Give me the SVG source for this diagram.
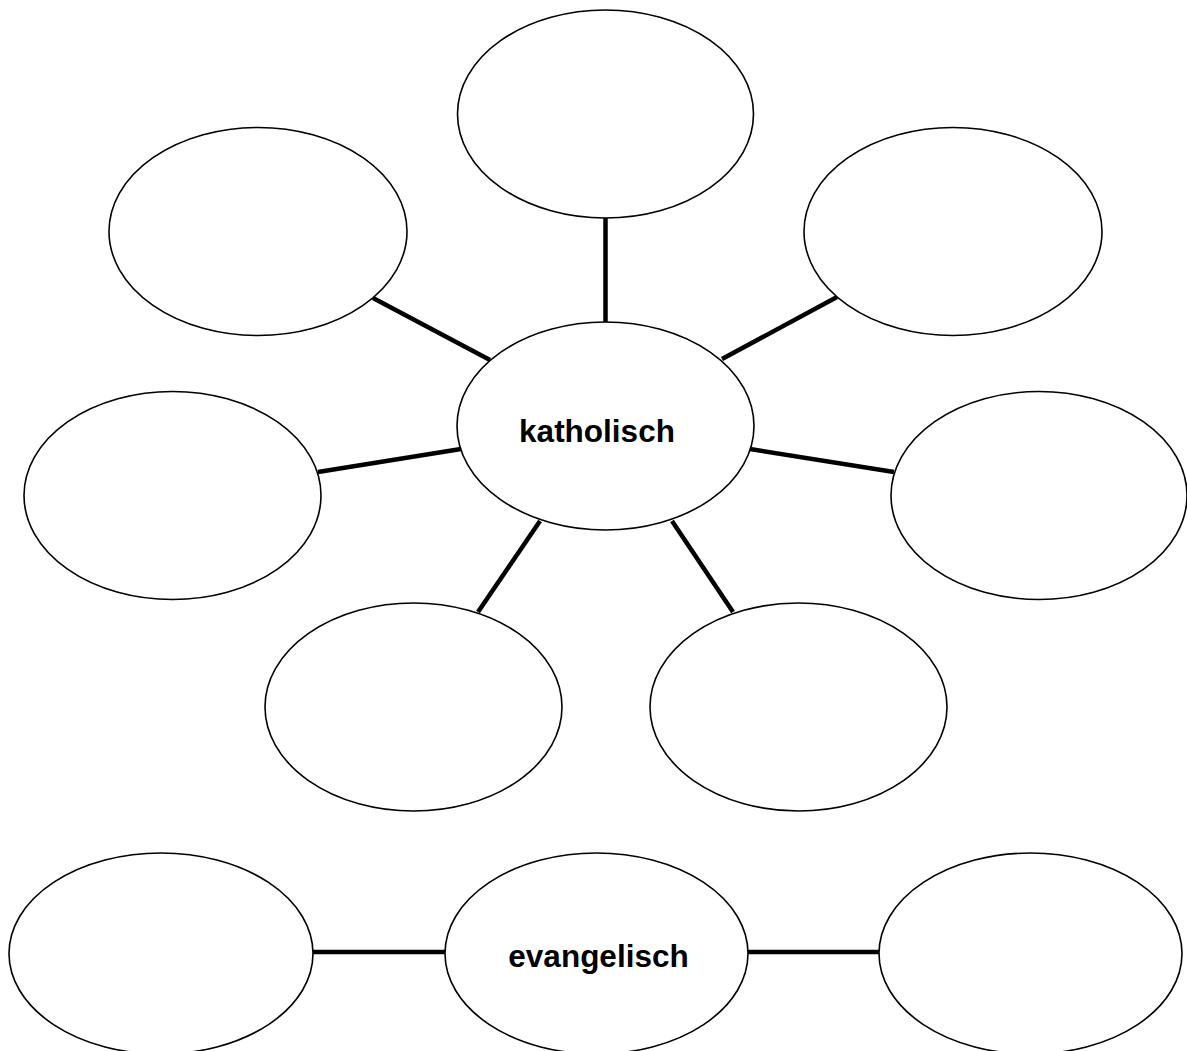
<svg xmlns="http://www.w3.org/2000/svg" width="1187" height="1051" viewBox="0 0 1187 1051">
<style>
.n{fill:#fff;stroke:#000;stroke-width:1.6}
.c{stroke:#000;stroke-width:4.5;fill:none}
.t{font-family:"Liberation Sans",Arial,sans-serif;font-weight:bold;font-size:31.5px;fill:#000;text-anchor:middle}
</style>
<rect width="1187" height="1051" fill="#fff"/>
<g id="connectors">
<line class="c" x1="605.5" y1="218" x2="605.5" y2="323"/>
<line class="c" x1="373" y1="298" x2="490" y2="360"/>
<line class="c" x1="837" y1="297" x2="722" y2="359"/>
<line class="c" x1="318" y1="472" x2="461" y2="449"/>
<line class="c" x1="750" y1="449" x2="894" y2="472"/>
<line class="c" x1="540" y1="521" x2="478" y2="612"/>
<line class="c" x1="672" y1="521" x2="733" y2="612"/>
<line class="c" x1="313" y1="952" x2="446" y2="952"/>
<line class="c" x1="747" y1="952" x2="880" y2="952"/>
</g>
<g id="n-top"><ellipse class="n" cx="605.5" cy="114" rx="148" ry="104"/></g>
<g id="n-upper-left"><ellipse class="n" cx="258" cy="231.5" rx="149" ry="104"/></g>
<g id="n-upper-right"><ellipse class="n" cx="953" cy="231.5" rx="149" ry="104"/></g>
<g id="n-katholisch"><ellipse class="n" cx="605.5" cy="426" rx="148.5" ry="104"/><text class="t" x="597" y="442">katholisch</text></g>
<g id="n-left"><ellipse class="n" cx="172.5" cy="495.5" rx="148.5" ry="104"/></g>
<g id="n-right"><ellipse class="n" cx="1039" cy="495.5" rx="148" ry="104"/></g>
<g id="n-lower-left"><ellipse class="n" cx="413.5" cy="707" rx="148.5" ry="104"/></g>
<g id="n-lower-right"><ellipse class="n" cx="798.5" cy="707" rx="148.5" ry="104"/></g>
<g id="n-bottom-left"><ellipse class="n" cx="161" cy="953.5" rx="152" ry="100.5"/></g>
<g id="n-evangelisch"><ellipse class="n" cx="596.5" cy="953.5" rx="151.5" ry="100.5"/><text class="t" x="598.5" y="967">evangelisch</text></g>
<g id="n-bottom-right"><ellipse class="n" cx="1030.5" cy="953.5" rx="151.5" ry="100.5"/></g>
</svg>
